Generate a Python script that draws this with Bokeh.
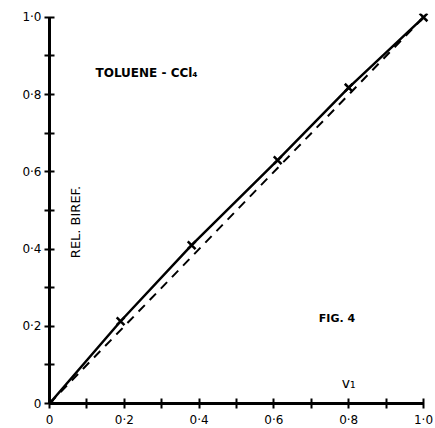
import math
from bokeh.plotting import figure
from bokeh.models import FixedTicker, Label, Range1d
from bokeh.embed import file_html
from bokeh.resources import INLINE

# data
frac = [0.0, 0.19, 0.38, 0.61, 0.80, 1.0]
rel_biref = [0.0, 0.213, 0.41, 0.63, 0.818, 1.0]
ideal_x = [0.0, 1.0]
ideal_y = [0.0, 1.0]
tick_vals = [0.0, 0.1, 0.2, 0.3, 0.4, 0.5, 0.6, 0.7, 0.8, 0.9, 1.0]
tick_text = ["0", "", "0·2", "", "0·4", "", "0·6", "", "0·8", "", "1·0"]

p = figure(frame_width=380, frame_height=390, output_backend="svg",
           toolbar_location=None, x_range=Range1d(0, 1.016), y_range=Range1d(0, 1.01),
           min_border_left=49, min_border_right=6, min_border_top=13, min_border_bottom=25)
p.outline_line_color = None
p.grid.visible = False
p.background_fill_color = "white"
p.border_fill_color = "white"

overrides = {v: t for v, t in zip(tick_vals, tick_text)}
for ax in (p.xaxis[0], p.yaxis[0]):
    ax.ticker = FixedTicker(ticks=tick_vals)
    ax.major_label_overrides = overrides
    ax.bounds = (0, 1)
    ax.axis_line_width = 3
    ax.axis_line_color = "black"
    ax.major_tick_in = 5
    ax.major_tick_out = 5
    ax.major_tick_line_width = 2
    ax.major_tick_line_color = "black"
    ax.minor_tick_line_color = None
    ax.major_label_text_font = "DejaVu Sans"
    ax.major_label_text_font_size = "12px"
    ax.major_label_text_color = "black"
p.xaxis[0].major_label_standoff = 4
p.yaxis[0].major_label_standoff = 3

p.line(ideal_x, ideal_y, line_color="black", line_width=2, line_dash="9 7")
p.line(frac, rel_biref, line_color="black", line_width=2.5)
p.scatter(frac, rel_biref, marker="x", size=11, line_color="black", line_width=2.5)

p.add_layout(Label(x=0.123, y=0.855, text="TOLUENE - CCl₄", text_font="DejaVu Sans",
                   text_font_size="12px", text_font_style="bold", text_baseline="middle",
                   text_color="black"))
p.add_layout(Label(x=0.72, y=0.22, text="FIG. 4", text_font="DejaVu Sans",
                   text_font_size="11px", text_font_style="bold", text_baseline="middle",
                   text_color="black"))
p.add_layout(Label(x=0.07, y=0.47, text="REL. BIREF.", text_font="DejaVu Sans",
                   text_font_size="13px", angle=math.pi / 2, text_align="center",
                   text_baseline="middle", text_color="black"))
p.add_layout(Label(x=0.80, y=0.052, text="v₁", text_font="DejaVu Sans",
                   text_font_size="14px", text_align="center", text_baseline="middle",
                   text_color="black"))

open("out.html", "w").write(file_html(p, INLINE))
